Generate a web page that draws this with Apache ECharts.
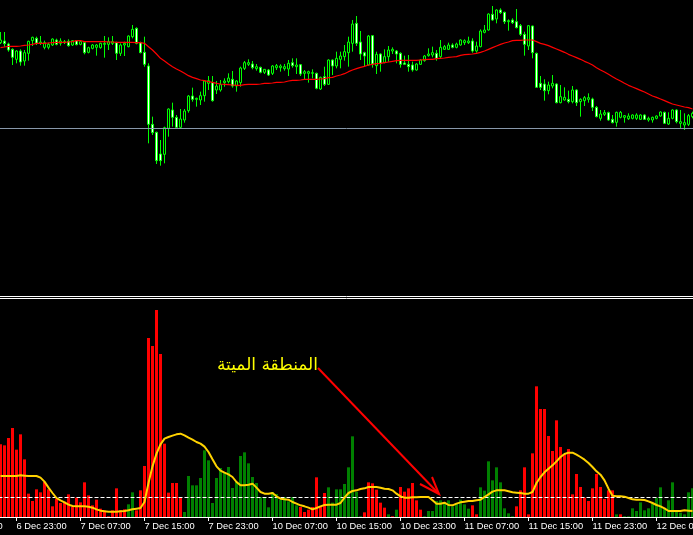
<!DOCTYPE html>
<html><head><meta charset="utf-8">
<script src="https://cdn.jsdelivr.net/npm/echarts@6/dist/echarts.min.js"></script>
<style>html,body{margin:0;padding:0;background:#000;overflow:hidden}#c{width:693px;height:535px}</style>
</head><body><div id="c"></div>
<script>
// ---- price candles (M30), arbitrary price units ----
const openPrice = [
772,777,768,752,722,747,717,740,778,785,
771,758,758,765,780,770,772,776,765,778,
767,772,743,755,758,757,767,767,770,772,
740,765,760,790,815,772,743,702,527,503,
438,437,515,570,548,518,540,568,612,602,
600,613,650,652,630,630,652,655,662,642,
652,695,707,708,694,698,683,690,680,697,
697,694,693,712,700,706,680,680,680,680,
633,670,647,720,702,722,730,742,770,830,
774,742,705,793,703,738,713,730,747,747,
740,711,707,705,690,707,718,733,735,740,
730,752,752,765,758,765,772,772,777,747,
760,803,810,857,843,870,863,835,840,835,
823,797,762,822,740,650,648,628,642,648,
592,600,602,595,630,595,598,602,603,578,
545,557,562,542,533,548,548,544,545,545,
542,555,540,540,545,552,563,528,545,570,
530,525,527,550];
const closePrice = [
780,769,750,728,747,714,742,776,788,770,
774,772,767,783,767,777,775,763,778,766,
775,742,757,765,765,770,770,775,775,740,
765,770,792,812,770,742,707,527,502,418,
418,517,573,548,518,543,567,612,602,605,
613,657,658,598,642,646,657,666,642,657,
696,712,712,697,700,683,692,675,702,703,
702,700,710,703,705,678,685,685,682,635,
668,647,720,702,725,732,745,774,828,770,
738,732,792,708,737,710,730,750,752,738,
707,707,700,690,708,720,732,738,742,725,
758,760,765,758,768,780,778,777,747,762,
807,810,858,840,870,862,835,838,832,817,
797,767,823,742,638,638,628,645,650,592,
610,608,595,630,592,602,607,607,578,550,
558,562,540,532,563,563,553,552,555,555,
555,542,545,548,552,564,530,545,570,535,
535,532,553,560];
const lowPrice = [
768,760,745,705,710,703,703,718,762,765,
765,752,752,762,764,763,768,760,762,764,
764,737,740,752,733,754,727,750,765,720,
732,732,758,785,767,740,700,470,495,408,
403,410,490,520,515,515,532,562,595,580,
585,595,630,595,618,625,640,650,637,625,
640,690,702,692,688,680,678,672,675,690,
685,688,672,697,678,672,662,652,665,632,
630,642,645,675,695,695,718,700,745,762,
720,702,703,697,678,685,710,715,738,710,
697,705,685,685,688,705,715,730,728,718,
725,750,750,755,755,763,765,768,742,742,
758,800,808,838,830,858,828,808,828,815,
792,733,750,725,637,630,598,617,635,590,
590,598,590,590,582,550,582,592,567,548,
538,552,538,530,520,545,532,540,542,540,
540,540,535,532,542,550,528,525,542,530,
513,510,522,545];
const highPrice = [
804,804,772,755,750,752,750,778,790,790,
792,778,772,785,784,785,780,782,780,780,
778,774,760,768,768,772,792,788,792,775,
770,775,794,825,818,775,790,710,550,505,
480,520,575,592,555,573,573,615,637,607,
625,660,672,672,657,660,665,680,687,660,
700,717,722,717,708,700,693,693,705,708,
707,708,720,725,725,708,690,688,692,682,
670,700,722,722,745,745,765,790,840,852,
807,745,795,795,745,740,752,762,758,750,
743,733,735,715,710,722,735,755,760,750,
780,765,772,770,772,782,782,790,785,775,
812,825,860,882,872,875,865,842,845,873,
828,805,825,823,742,672,662,655,675,650,
645,638,628,642,632,605,612,620,607,582,
570,570,565,555,565,567,555,560,557,560,
557,557,550,550,554,566,565,563,572,572,
570,560,558,565];
// red moving average on price
const maValues = [
757,759,761,761,761,762,764,765,767,770,
770,770,771,772,773,773,773,774,775,778,
778,775,775,775,775,775,775,774,774,773,
773,773,773,773,772,772,770,760,750,738,
725,717,708,700,693,687,680,673,668,664,
660,658,655,653,650,648,647,646,645,644,
644,646,647,647,647,648,650,650,651,653,
653,654,657,659,659,660,662,662,662,662,
663,664,667,668,672,675,679,685,690,694,
698,701,705,707,709,710,712,714,716,718,
719,719,719,719,719,720,721,722,722,724,
725,726,728,729,730,734,736,737,738,740,
743,747,752,757,762,767,771,774,778,779,
779,780,780,780,775,770,767,763,758,753,
748,743,737,732,727,722,716,711,705,697,
690,684,677,670,663,657,650,644,639,634,
629,624,618,612,608,603,598,593,588,585,
582,579,577,573];
const horizontalLinePrice = 516;
// ---- indicator window ----
const volumeValues = [
218,215,237,267,202,248,173,70,48,83,
74,105,83,32,55,42,46,68,30,58,
44,104,65,35,52,25,20,2,20,86,
20,23,38,74,20,80,153,537,513,621,
489,220,73,102,102,58,15,123,95,95,
117,200,170,42,117,147,135,150,87,105,
183,194,161,120,102,60,58,29,75,69,
52,60,47,60,35,30,15,22,30,119,
32,72,89,43,83,83,99,149,242,76,
2,14,104,101,82,43,28,8,2,22,
90,76,86,102,50,22,2,18,18,48,
50,42,50,32,40,52,38,25,35,8,
89,79,167,110,149,104,26,11,2,32,
80,149,8,191,392,324,324,243,198,290,
210,188,204,68,129,90,58,48,86,129,
90,54,80,80,8,8,2,2,26,18,
44,20,26,40,58,89,26,50,104,16,
13,8,74,86];
// colour of each histogram bar, run-length: r = red (sell), g = green (buy)
const volumeColorRuns = "r32 g2 r12 g29 r7 g9 r6 g1 r1 g1 r6 g12 r2 g9 r25 g1 r1 g18";
const signalValues = [
123,123,123,123,123,125,124,123,123,123,
118,106,88,72,57,50,44,37,33,32,
32,32,31,28,23,19,17,16,16,16,
17,18,20,23,25,27,45,102,152,190,
218,235,240,244,248,250,245,238,232,225,
220,211,195,173,152,139,133,128,120,105,
95,95,97,100,88,75,70,70,72,62,
55,53,52,45,40,35,32,28,23,27,
32,36,37,37,37,42,58,72,78,80,
84,86,90,90,90,88,85,84,80,70,
62,58,58,59,59,60,60,60,50,40,
40,43,36,35,40,44,46,48,48,50,
52,60,68,76,80,80,80,77,74,73,
72,70,70,75,102,120,134,145,155,167,
180,189,193,193,187,180,172,162,150,137,
127,110,85,64,62,62,61,57,53,52,
52,51,47,42,36,32,26,18,18,18,
18,20,19,18];
const deadZoneLevel = 60;
// ---- time axis ----
const tradingDays = [6, 7, 10, 11, 12];
const firstBarMinutes = 21 * 60;
const tickLabels = ["6 Dec 23:00","7 Dec 07:00","7 Dec 15:00","7 Dec 23:00","10 Dec 07:00","10 Dec 15:00","10 Dec 23:00","11 Dec 07:00","11 Dec 15:00","11 Dec 23:00","12 Dec 07:00"];
const offscreenLabel = "6 Dec 15:00";
const annotationText = "المنطقة الميتة";

const categories = [];
{
  let d = 0, m = firstBarMinutes;
  for (let i = 0; i < openPrice.length; i++) {
    const hh = String(Math.floor(m / 60)).padStart(2, '0');
    const mm = String(m % 60).padStart(2, '0');
    categories.push(tradingDays[d] + ' Dec ' + hh + ':' + mm);
    m += 30; if (m >= 1440) { m = 0; d++; }
  }
}
const isTick = categories.map(c => tickLabels.indexOf(c) >= 0);
const volumeColors = [];
volumeColorRuns.split(' ').forEach(t => { const n = +t.slice(1); for (let i = 0; i < n; i++) volumeColors.push(t[0]); });
const candleData = openPrice.map((o, i) => [o, closePrice[i], lowPrice[i], highPrice[i]]);

const chart = echarts.init(document.getElementById('c'), null, {renderer: 'canvas', width: 693, height: 535});
const labelFont = {color: '#ffffff', fontFamily: 'Liberation Sans', fontSize: 9.3};
chart.setOption({
  backgroundColor: '#000000',
  animation: false,
  grid: [
    {left: -1.5, width: 696, top: 0, height: 300, outerBoundsMode: 'none', containLabel: false},
    {left: -1.5, width: 696, top: 300, height: 217, outerBoundsMode: 'none', containLabel: false}
  ],
  xAxis: [
    {type: 'category', gridIndex: 0, data: categories, show: false},
    {type: 'category', gridIndex: 1, data: categories,
      axisLine: {show: true, lineStyle: {color: '#ffffff', width: 1}},
      axisTick: {show: true, alignWithLabel: true, interval: i => isTick[i], length: 4, lineStyle: {color: '#ffffff'}},
      axisLabel: Object.assign({interval: i => isTick[i], align: 'left', margin: 5}, labelFont),
      splitLine: {show: false}}
  ],
  yAxis: [
    {type: 'value', gridIndex: 0, min: 0, max: 900, show: false},
    {type: 'value', gridIndex: 1, min: 0, max: 651, show: false}
  ],
  series: [
    {type: 'candlestick', xAxisIndex: 0, yAxisIndex: 0, data: candleData, barWidth: 2,
      itemStyle: {color: '#000000', color0: '#ffffff', borderColor: '#00ff00', borderColor0: '#00ff00', borderWidth: 1},
      markLine: {silent: true, symbol: 'none', label: {show: false}, animation: false,
        lineStyle: {color: '#8898aa', width: 1, type: 'solid'}, data: [{yAxis: horizontalLinePrice}]}},
    {type: 'line', xAxisIndex: 0, yAxisIndex: 0, data: maValues, symbol: 'none', silent: true,
      lineStyle: {color: '#ff0000', width: 1.2}},
    {type: 'bar', xAxisIndex: 1, yAxisIndex: 1, data: volumeValues, barWidth: 3,
      itemStyle: {color: p => volumeColors[p.dataIndex] === 'g' ? '#008000' : '#ff0000'}},
    {type: 'line', xAxisIndex: 1, yAxisIndex: 1, data: signalValues, symbol: 'none', silent: true, z: 5,
      lineStyle: {color: '#ffd200', width: 2},
      markLine: {silent: true, symbol: 'none', label: {show: false}, animation: false,
        lineStyle: {color: '#ffffff', width: 1, type: [4, 2]}, data: [{yAxis: deadZoneLevel}]}}
  ],
  graphic: [
    {type: 'line', shape: {x1: 0, y1: 296.5, x2: 693, y2: 296.5}, style: {stroke: '#ffffff', lineWidth: 1}, silent: true},
    {type: 'line', shape: {x1: 0, y1: 298.5, x2: 693, y2: 298.5}, style: {stroke: '#ffffff', lineWidth: 1}, silent: true},
    {type: 'text', x: -47.5, y: 522, style: Object.assign({text: offscreenLabel, fill: '#ffffff', font: '9.3px "Liberation Sans"', textVerticalAlign: 'top'}), silent: true},
    {type: 'text', x: 318, y: 366, style: {text: annotationText, fill: '#ffff00', font: '17px "DejaVu Sans"', textAlign: 'right', textVerticalAlign: 'middle'}, silent: true},
    {type: 'line', shape: {x1: 318, y1: 368, x2: 439, y2: 494}, style: {stroke: '#ff0000', lineWidth: 2}, silent: true},
    {type: 'polyline', shape: {points: [[420, 484], [439, 494], [432, 477]]}, style: {stroke: '#ff0000', lineWidth: 2, fill: null}, silent: true}
  ]
});
</script>
</body></html>
